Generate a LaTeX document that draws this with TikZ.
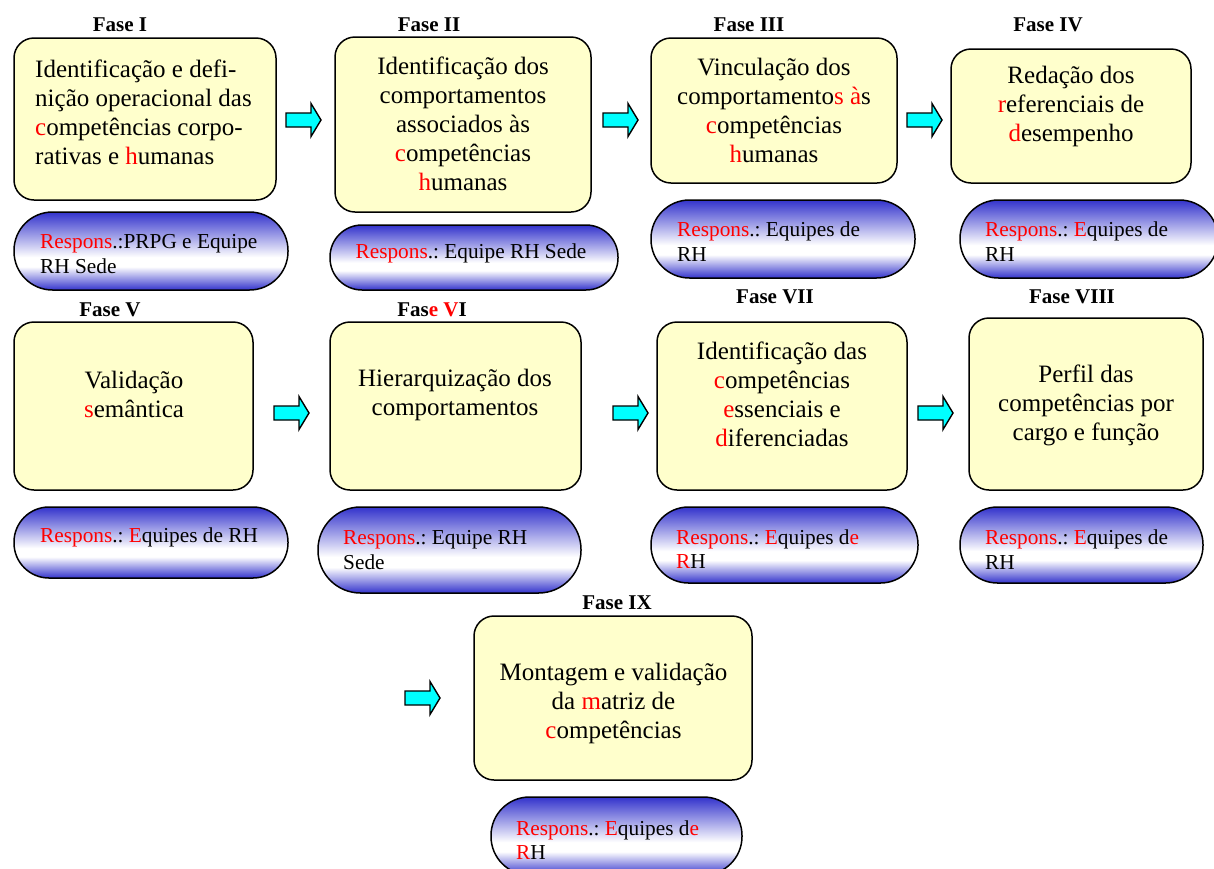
\documentclass[tikz,border=0pt]{standalone}
\usepackage{fontspec}
\setmainfont{Liberation Serif}
\frenchspacing
\definecolor{boxfill}{RGB}{255,255,204}
\definecolor{pillblue}{RGB}{51,51,204}
\definecolor{arrowcyan}{RGB}{0,255,255}
% blue at top and bottom, white band a little below the middle
\pgfdeclareverticalshading{pillshade}{100bp}{color(0bp)=(pillblue); color(25bp)=(pillblue); color(40bp)=(white); color(46bp)=(white); color(75bp)=(pillblue); color(100bp)=(pillblue)}
\newcommand{\redtx}[1]{\textcolor{red}{#1}}
\begin{document}
\begin{tikzpicture}[x=1pt,y=-1pt,
  phasebox/.style={draw, line width=1.5pt, fill=boxfill, rounded corners=20pt, inner sep=0pt},
  pill/.style={draw, line width=1.5pt, shading=pillshade, rounded corners=#1, inner sep=0pt},
  boxtext/.style={inner sep=0pt, align=center, font=\fontsize{25}{29}\selectfont},
  pilltext/.style={inner sep=0pt, align=left, anchor=west, font=\fontsize{21.3}{24.5}\selectfont},
  phaselabel/.style={inner sep=0pt, font=\fontsize{21}{24}\selectfont\bfseries},
  flowarrow/.pic={\draw[line width=1.4pt, fill=arrowcyan, line join=miter]
      (0,-7) -- (25,-7) -- (25,-16.5) -- (35,0) -- (25,16.5) -- (25,7) -- (0,7) -- cycle;}
]
\useasboundingbox[fill=white] (0,0) rectangle (1214,868);

% ---------- phase titles ----------
\node[phaselabel] (l1) at (120,25)   {Fase I};
\node[phaselabel] (l2) at (429,25)   {Fase II};
\node[phaselabel] (l3) at (749,25)   {Fase III};
\node[phaselabel] (l4) at (1048,25)  {Fase IV};
\node[phaselabel] (l5) at (110,310)  {Fase V};
\node[phaselabel] (l6) at (432,310)  {Fas\redtx{e V}I};
\node[phaselabel] (l7) at (775,297)  {Fase VII};
\node[phaselabel] (l8) at (1072,297) {Fase VIII};
\node[phaselabel] (l9) at (617,603)  {Fase IX};

% ---------- phase boxes ----------
\node[phasebox, minimum width=262pt, minimum height=162pt] (b1) at (145,119)   {};
\node[phasebox, minimum width=256pt, minimum height=175pt] (b2) at (463,124.5) {};
\node[phasebox, minimum width=246pt, minimum height=145pt] (b3) at (774,110.5) {};
\node[phasebox, minimum width=240pt, minimum height=134pt] (b4) at (1071,116)  {};
\node[phasebox, minimum width=239pt, minimum height=168pt] (b5) at (133.5,406) {};
\node[phasebox, minimum width=251pt, minimum height=168pt] (b6) at (455.5,406) {};
\node[phasebox, minimum width=250pt, minimum height=168pt] (b7) at (782,406)   {};
\node[phasebox, minimum width=234pt, minimum height=172pt] (b8) at (1086,404)  {};
\node[phasebox, minimum width=278pt, minimum height=164pt] (b9) at (613,698)   {};

% ---------- box texts ----------
\node[boxtext, align=left, anchor=west] (t1) at (35,112.5)
  {Identificação e defi-\\nição operacional das\\\redtx{c}ompetências corpo-\\rativas e \redtx{h}umanas};
\node[boxtext] (t2) at (463,123.5)
  {Identificação dos\\comportamentos\\associados às\\\redtx{c}ompetências\\\redtx{h}umanas};
\node[boxtext] (t3) at (774,110)
  {Vinculação dos\\comportamento\redtx{s à}s\\\redtx{c}ompetências\\\redtx{h}umanas};
\node[boxtext] (t4) at (1071,106)
  {Redação dos\\\redtx{r}eferenciais de\\\redtx{d}esempenho};
\node[boxtext] (t5) at (134,394.5)
  {Validação\\\redtx{s}emântica};
\node[boxtext] (t6) at (455,394.5)
  {Hierarquização dos\\comportamentos};
\node[boxtext] (t7) at (782,394)
  {Identificação das\\\redtx{c}ompetências\\\redtx{e}ssenciais e\\\redtx{d}iferenciadas};
\node[boxtext] (t8) at (1086,405)
  {Perfil das\\competências por\\cargo e função};
\node[boxtext] (t9) at (613.5,703.5)
  {Montagem e validação\\da \redtx{m}atriz de\\\redtx{c}ompetências};

% ---------- responsibility pills ----------
\node[pill=38.5pt, minimum width=274pt, minimum height=78pt] (p1) at (151,251)    {};
\node[pill=32pt,   minimum width=288pt, minimum height=65pt] (p2) at (474,257.5)  {};
\node[pill=38.5pt, minimum width=264pt, minimum height=78pt] (p3) at (783,239)    {};
\node[pill=38.5pt, minimum width=258pt, minimum height=78pt] (p4) at (1089,239)   {};
\node[pill=35pt,   minimum width=274pt, minimum height=71pt] (p5) at (151,542.5)  {};
\node[pill=42.5pt, minimum width=263pt, minimum height=86pt] (p6) at (449.5,550)  {};
\node[pill=37.5pt, minimum width=267pt, minimum height=76pt] (p7) at (784.5,545)  {};
\node[pill=37.5pt, minimum width=243pt, minimum height=76pt] (p8) at (1081.5,545) {};
\node[pill=38.5pt, minimum width=251pt, minimum height=78pt] (p9) at (616.5,836)  {};

\node[pilltext] (r1) at (40,254)    {\redtx{Respons}.:PRPG e Equipe\\RH Sede};
\node[pilltext, anchor=center] (r2) at (471,253) {\redtx{Respons}.: Equipe RH Sede};
\node[pilltext] (r3) at (677,241.5) {\redtx{Respons}.: Equipes de\\RH};
\node[pilltext] (r4) at (985,241.5) {\redtx{Respons}.: \redtx{E}quipes de\\RH};
\node[pilltext] (r5) at (40,537)    {\redtx{Respons}.: \redtx{E}quipes de RH};
\node[pilltext] (r6) at (343,550)   {\redtx{Respons}.: Equipe RH\\Sede};
\node[pilltext] (r7) at (676,549)   {\redtx{Respons}.: \redtx{E}quipes d\redtx{e}\\\redtx{R}H};
\node[pilltext] (r8) at (985,549.5) {\redtx{Respons}.: \redtx{E}quipes de\\RH};
\node[pilltext] (r9) at (516,840)   {\redtx{Respons}.: \redtx{E}quipes d\redtx{e}\\\redtx{R}H};

% ---------- block arrows between phases ----------
\pic (a1) at (286,120) {flowarrow};
\pic (a2) at (603,120) {flowarrow};
\pic (a3) at (907,120) {flowarrow};
\pic (a4) at (274,413) {flowarrow};
\pic (a5) at (613,413) {flowarrow};
\pic (a6) at (918,413) {flowarrow};
\pic (a7) at (405,698) {flowarrow};
\end{tikzpicture}
\end{document}
